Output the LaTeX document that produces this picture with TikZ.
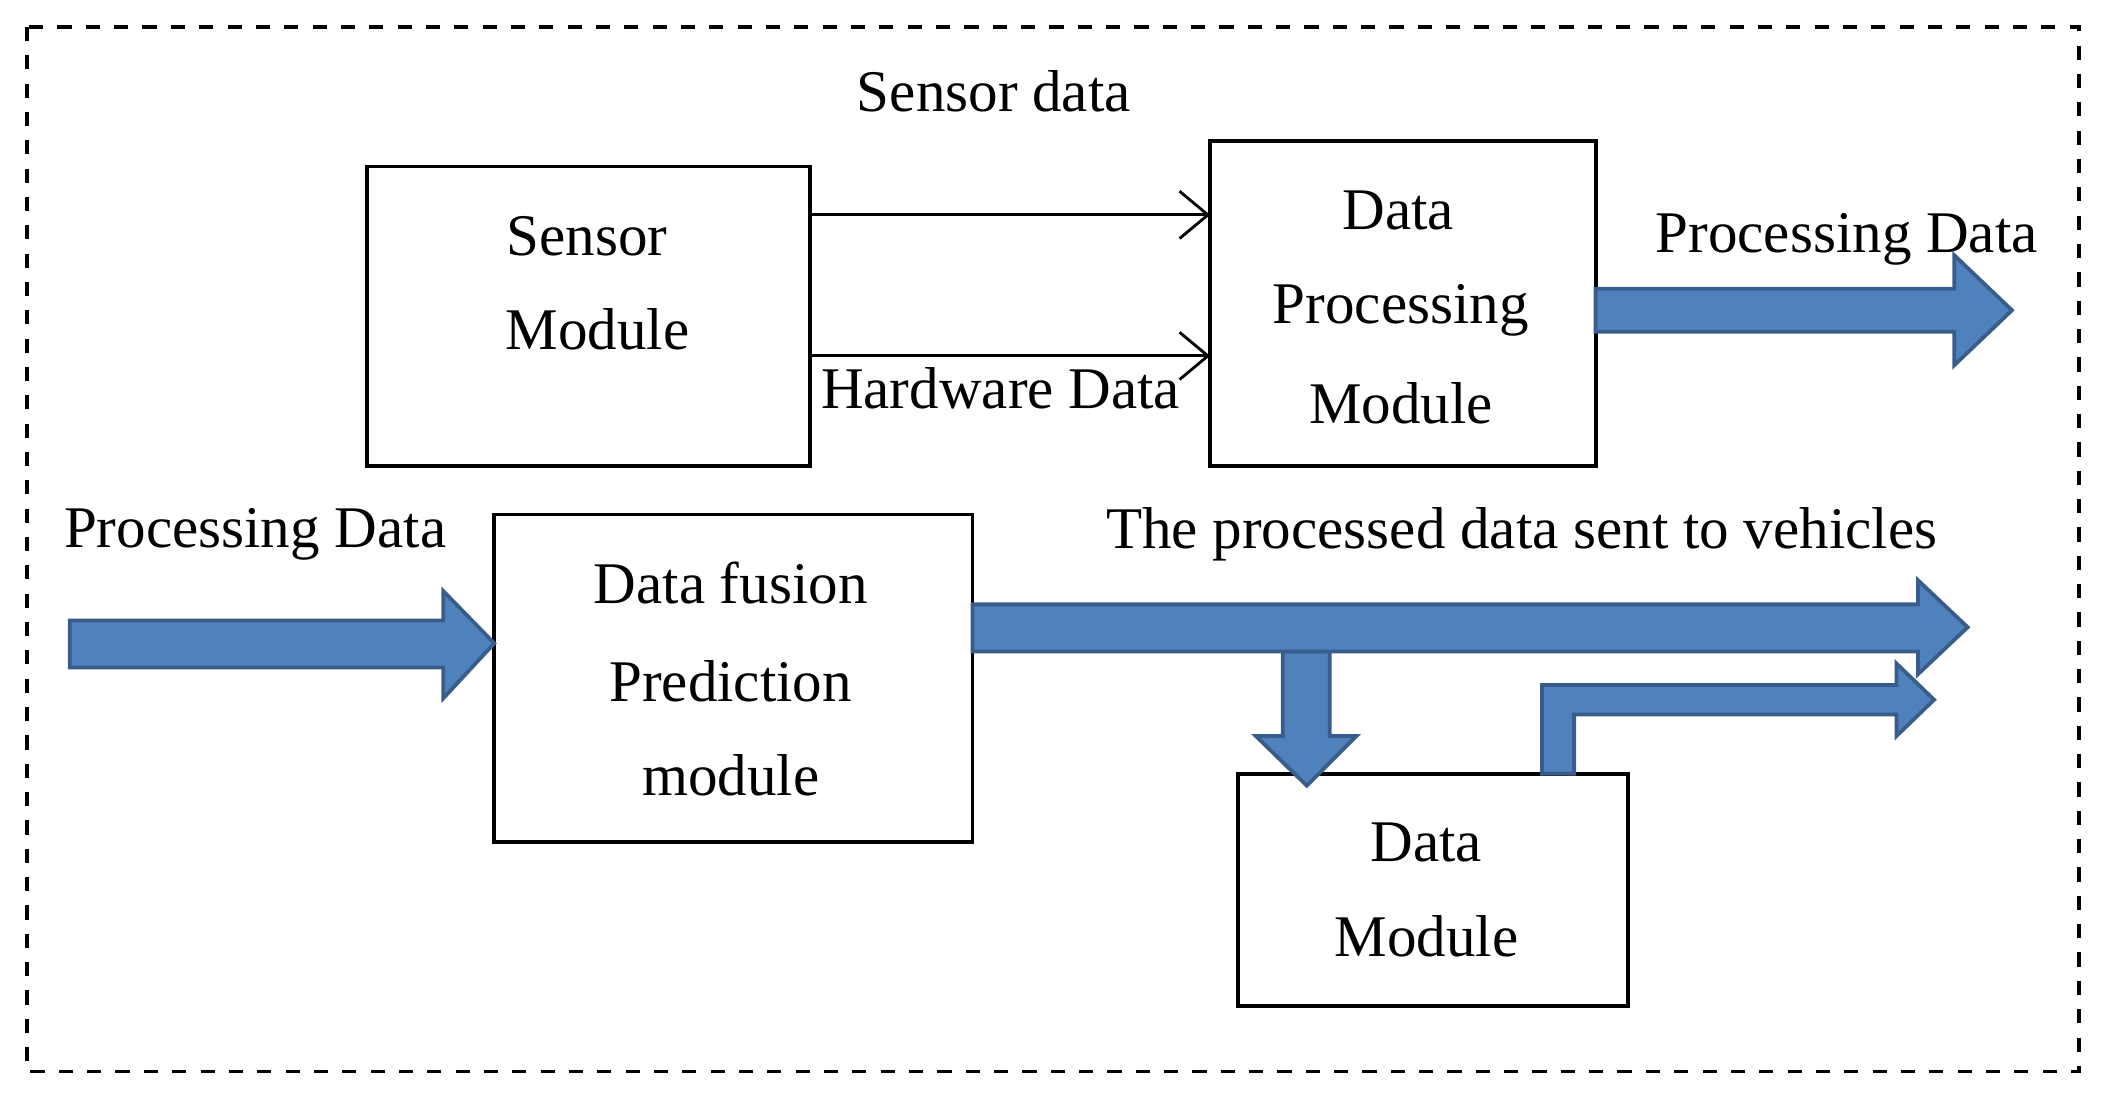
\documentclass[tikz,border=0pt]{standalone}
\usepackage{fontspec}
\setmainfont{Liberation Serif}
\usetikzlibrary{arrows.meta}
\begin{document}
\begin{tikzpicture}[x=0.01cm,y=-0.01cm,
  box/.style={draw,line width=0.8pt,inner sep=0,align=center},
  lbl/.style={font=\fontsize{12.5}{15}\selectfont,inner sep=0},
  fat/.style={fill={rgb,255:red,79;green,129;blue,189},draw={rgb,255:red,56;green,93;blue,138},line width=0.8pt},
  thin/.style={line width=0.6pt,-{Straight Barb[length=6pt,width=10pt]}}]
\useasboundingbox (0,0) rectangle (1568,819);
\draw[dashed,line width=0.7pt] (20,20) rectangle (1548,798);
% boxes
\draw[box] (273,124) rectangle (603,347);
\node[lbl] (s1) at (437,176) {Sensor};
\node[lbl] (s2) at (445,245) {Module};
\draw[box] (901,105) rectangle (1188,347);
\node[lbl] at (1041,157) {Data};
\node[lbl] at (1043,231) {Processing};
\node[lbl] at (1043,300) {Module};
\draw[box] (368,383) rectangle (724,627);
\node[lbl] at (544,434) {Data fusion};
\node[lbl] at (544,507) {Prediction};
\node[lbl] at (544,577) {module};
\draw[box] (922,576) rectangle (1212,749);
\node[lbl] at (1062,627) {Data};
\node[lbl] at (1062,697) {Module};
% thin arrows
\coordinate (a1) at (603,160); \coordinate (b1) at (901,160);
\coordinate (a2) at (603,265); \coordinate (b2) at (901,265);
\draw[thin] (a1) -- (b1);
\draw[thin] (a2) -- (b2);
% labels
\node[lbl] at (740,68) {Sensor data};
\node[lbl] at (745,289) {Hardware Data};
\node[lbl] at (1375,178) {Processing Data};
\node[lbl] at (190,398) {Processing Data};
\node[lbl] at (1133,398) {The processed data sent to vehicles};
% fat arrows
\filldraw[fat] (1188,215) -- (1455,215) -- (1455,190) -- (1498,231) -- (1455,272) -- (1455,247) -- (1188,247) -- cycle;
\filldraw[fat] (52,462) -- (330,462) -- (330,440) -- (368,479) -- (330,520) -- (330,497) -- (52,497) -- cycle;
\filldraw[fat] (955,485) -- (955,548) -- (935,548) -- (973,585) -- (1010,548) -- (990,548) -- (990,485) -- cycle;
\filldraw[fat] (724,450) -- (1428,450) -- (1428,432) -- (1465,467) -- (1428,502) -- (1428,485) -- (724,485) -- cycle;
\filldraw[fat] (1148,576) -- (1148,510) -- (1412,510) -- (1412,494) -- (1440,521) -- (1412,548) -- (1412,532) -- (1172,532) -- (1172,576) -- cycle;
\end{tikzpicture}
\end{document}
